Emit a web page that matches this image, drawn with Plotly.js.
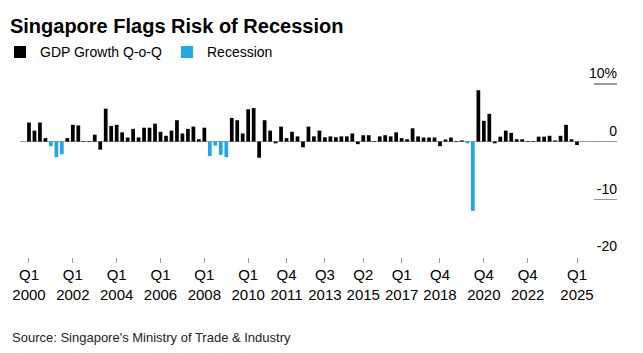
<!DOCTYPE html>
<html>
<head>
<meta charset="utf-8">
<script src="https://cdn.plot.ly/plotly-3.0.1.min.js"></script>
<style>
  html, body { margin: 0; padding: 0; background: #fff; }
  #chart { width: 643px; height: 353px; }
</style>
</head>
<body>
<div id="chart"></div>
<script>
// Quarterly GDP growth, Q-o-Q (%), Q1 2000 .. Q1 2025 (index 0 = Q1 2000)
const gdpGrowth = [
  3.3, 1.9, 3.3, 0.6, -0.8, -2.7, -2.2, 0.6,   // 2000-2001
  2.9, 2.8, 0.1, 0.1, 1.2, -1.4, 5.7, 2.7,     // 2002-2003
  2.9, 1.6, 0.7, 2.2, 0.7, 2.4, 2.4, 3.1,      // 2004-2005
  1.7, 1.0, 1.9, 3.7, 1.4, 2.2, 2.6, 0.4,      // 2006-2007
  2.4, -2.5, -0.7, -2.3, -2.7, 4.1, 3.7, 1.4,  // 2008-2009
  5.6, 5.8, -2.8, 3.7, 1.9, -0.3, 2.6, 0.6,    // 2010-2011
  1.7, 0.9, -1.0, 2.6, 0.9, 1.9, 0.75, 0.9,    // 2012-2013
  0.75, 0.9, 0.9, 1.4, -0.45, 1.1, 1.1, 0.1,   // 2014-2015
  0.9, 1.1, 0.9, 1.6, 0.6, 0.4, 2.3, 0.9,      // 2016-2017
  0.7, 0.7, 0.7, -0.8, 0.35, 0.7, 0.1, 0.2,    // 2018-2019
  -0.3, -12.0, 8.9, 3.6, 4.8, -0.3, 0.85, 1.9, // 2020-2021
  1.5, 0.4, 0.4, 0.1, 0.1, 0.85, 0.85, 1.0,    // 2022-2023
  0.2, 1.0, 2.9, 0.4,                          // 2024
  -0.6                                         // Q1 2025
];
// Quarters flagged as recession (indices into gdpGrowth)
const recessionQuarters = [4, 5, 6, 33, 34, 35, 36, 80, 81];

// Tick labels on the time axis
const tickIndex = [0, 8, 16, 24, 32, 40, 47, 54, 61, 68, 75, 83, 91, 100];
const tickLabels = ["Q1<br>2000", "Q1<br>2002", "Q1<br>2004", "Q1<br>2006", "Q1<br>2008",
  "Q1<br>2010", "Q4<br>2011", "Q3<br>2013", "Q2<br>2015", "Q1<br>2017", "Q4<br>2018",
  "Q4<br>2020", "Q4<br>2022", "Q1<br>2025"];
const yTickVals = [-20, -10, 0, 10];
const yTickText = ["-20", "-10", "0", "10%"];

const seriesNames = ["GDP Growth Q-o-Q", "Recession"];

const idx = gdpGrowth.map((_, i) => i);
const isRec = idx.map(i => recessionQuarters.includes(i));
const normalY = gdpGrowth.map((v, i) => isRec[i] ? null : v);
const recY = gdpGrowth.map((v, i) => isRec[i] ? v : null);

const FONT = "'Liberation Sans', Arial, Helvetica, sans-serif";

const traces = [
  { type: "bar", x: idx, y: normalY, name: seriesNames[0],
    marker: { color: "#000000", line: { width: 0 } }, hoverinfo: "skip" },
  { type: "bar", x: idx, y: recY, name: seriesNames[1],
    marker: { color: "#1fa8e6", line: { width: 0 } }, hoverinfo: "skip" }
];

const layout = {
  width: 643, height: 353,
  margin: { l: 20, r: 26, t: 55, b: 96, autoexpand: false },
  paper_bgcolor: "#ffffff", plot_bgcolor: "#ffffff",
  font: { family: FONT, size: 13, color: "#000" },
  barmode: "overlay", bargap: 0.32,
  showlegend: true,
  title: {
    text: "<b>Singapore Flags Risk of Recession</b>",
    font: { family: FONT, size: 20, color: "#000" },
    x: 0.0155, xanchor: "left", xref: "container",
    y: 0.946, yanchor: "top", yref: "container",
    automargin: false
  },
  legend: {
    orientation: "h", xref: "container", yref: "container",
    x: -0.03, xanchor: "left", y: 0.897, yanchor: "top",
    font: { family: FONT, size: 14, color: "#000" },
    itemwidth: 30, tracegroupgap: 0, traceorder: "normal",
    bgcolor: "rgba(0,0,0,0)"
  },
  xaxis: {
    type: "linear", range: [-1.64, 107.3],
    tickmode: "array", tickvals: tickIndex, ticktext: tickLabels,
    ticks: "outside", ticklen: 5, tickwidth: 1, tickcolor: "#999",
    ticklabelstandoff: -1,
    showgrid: false, zeroline: false, showline: false,
    tickfont: { family: FONT, size: 15, color: "#000" },
    automargin: false, fixedrange: true
  },
  yaxis: {
    side: "right", range: [-20, 15],
    tickmode: "array", tickvals: yTickVals, ticktext: yTickText,
    ticks: "inside", ticklen: 23, tickwidth: 1.5, tickcolor: "#999",
    ticklabelposition: "inside top", ticklabelstandoff: -3,
    showgrid: false, showline: false,
    zeroline: true, zerolinecolor: "#a0a0a0", zerolinewidth: 1.5,
    layer: "above traces",
    tickfont: { family: FONT, size: 14, color: "#000" },
    automargin: false, fixedrange: true
  },
  annotations: [{
    text: "Source: Singapore's Ministry of Trade & Industry",
    xref: "paper", yref: "paper", x: -0.0168, y: -0.40,
    xanchor: "left", yanchor: "middle", showarrow: false,
    font: { family: FONT, size: 13, color: "#222" }
  }]
};

Plotly.newPlot("chart", traces, layout, { displayModeBar: false, staticPlot: true });
</script>
</body>
</html>
